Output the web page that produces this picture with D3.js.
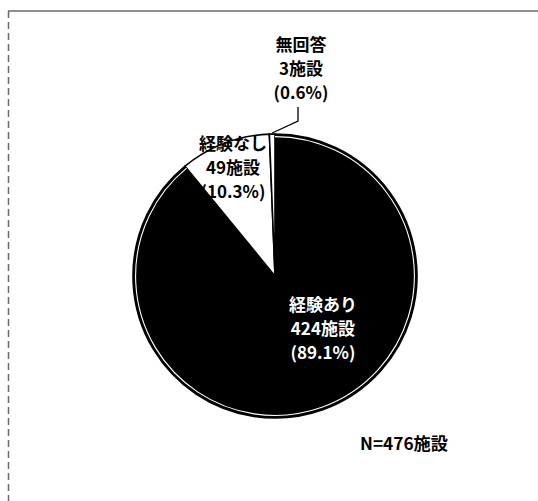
<!DOCTYPE html>
<html>
<head>
<meta charset="utf-8">
<script src="https://cdn.jsdelivr.net/npm/d3@7"></script>
<style>
  html, body { margin: 0; padding: 0; background: #fff; }
  svg { display: block; }
  text { font-family: "Noto Sans CJK JP", "Noto Sans", sans-serif; }
</style>
</head>
<body>
<svg id="chart" width="538" height="501"></svg>
<script>
// ---- data ----
const categories = ["経験あり", "経験なし", "無回答"];
const counts = [424, 49, 3];
const countLabels = ["424施設", "49施設", "3施設"];
const percentLabels = ["(89.1%)", "(10.3%)", "(0.6%)"];
const totalLabel = "N=476施設";

// ---- layout ----
const W = 538, H = 501;
const cx = 275, cy = 276, R = 142;
const fills = ["#000", "#fff", "#fff"];

const svg = d3.select("#chart");

// frame
svg.append("line").attr("x1", 8).attr("x2", W).attr("y1", 11).attr("y2", 11)
  .attr("stroke", "#6a6a6a").attr("stroke-width", 1.5);
svg.append("line").attr("x1", 8.5).attr("x2", 8.5).attr("y1", 11).attr("y2", H)
  .attr("stroke", "#6a6a6a").attr("stroke-width", 1.5).attr("stroke-dasharray", "7,4");

const data = categories.map((c, i) => ({ cat: c, value: counts[i], i }));
const pie = d3.pie().value(d => d.value).sort(null);
const arcs = pie(data);
const arc = d3.arc().innerRadius(0).outerRadius(R);

const g = svg.append("g").attr("transform", `translate(${cx},${cy})`);
g.selectAll("path.slice").data(arcs).join("path")
  .attr("class", "slice")
  .attr("d", arc)
  .attr("fill", d => fills[d.data.i])
  .attr("stroke", "#000")
  .attr("stroke-width", 1.6)
  .attr("stroke-linejoin", "round");

// white inner rim on the black slice (scanned look)
const rim = d3.arc().innerRadius(R - 2.6).outerRadius(R - 2.6);
g.append("path").attr("d", rim(arcs[0]))
  .attr("fill", "none").attr("stroke", "#fff").attr("stroke-width", 1.1);

// labels
const fs = 17, lh = 24;
function block(x, y, lines, color) {
  const t = g.append("text").attr("text-anchor", "middle")
    .attr("fill", color).attr("font-size", fs).attr("font-weight", 700);
  lines.forEach((s, k) => {
    t.append("tspan").attr("x", x).attr("y", y + k * lh).text(s);
  });
}
// 経験あり (inside, white)
const c0 = d3.arc().innerRadius(0).outerRadius(R).centroid(arcs[0]);
block(c0[0] + 24, c0[1] - 32, [categories[0], countLabels[0], percentLabels[0]], "#fff");
// 経験なし (inside small slice, black)
block(-42, -126, [categories[1], countLabels[1], percentLabels[1]], "#000");
// 無回答 (outside, top)
block(26, -225, [categories[2], countLabels[2], percentLabels[2]], "#000");

// leader line for 無回答
const mid = (arcs[2].startAngle + arcs[2].endAngle) / 2;
const ax = Math.sin(mid) * (R + 1), ay = -Math.cos(mid) * (R + 1);
g.append("path")
  .attr("d", d3.line()([[ax, ay], [23, ay - 12], [23, ay - 26]]))
  .attr("fill", "none").attr("stroke", "#000").attr("stroke-width", 1.3);

// N label
svg.append("text").attr("x", 360).attr("y", 450)
  .attr("font-size", 17).attr("font-weight", 700).attr("fill", "#000")
  .attr("textLength", 88).attr("lengthAdjust", "spacingAndGlyphs")
  .text(totalLabel);
</script>
</body>
</html>
